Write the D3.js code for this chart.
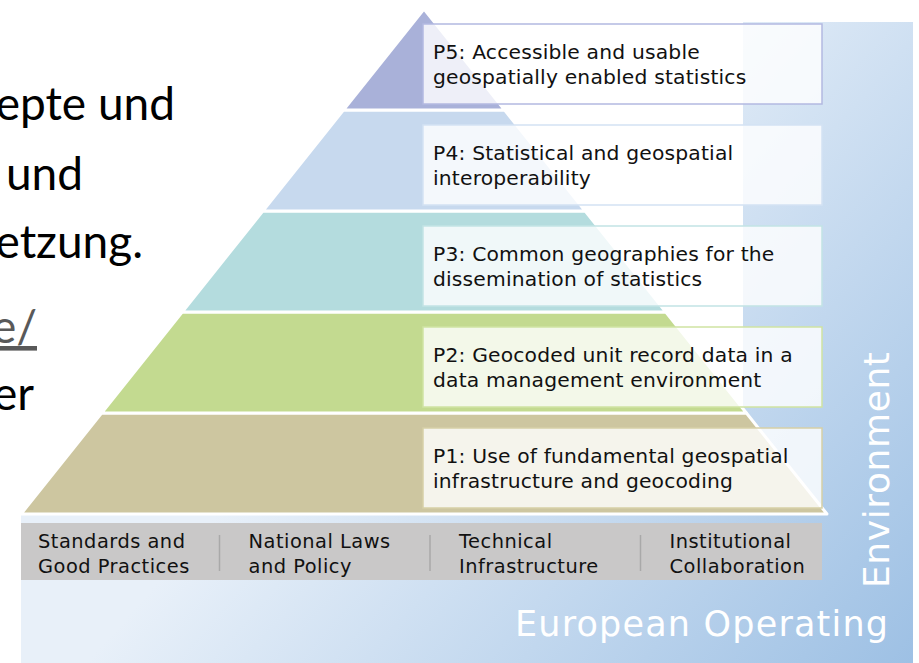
<!DOCTYPE html>
<html><head><meta charset="utf-8">
<script src="https://cdn.jsdelivr.net/npm/d3@7"></script>
<style>body{margin:0;background:#fff;overflow:hidden;} svg{display:block;}</style>
</head><body>
<svg id="c" width="919" height="663"></svg>
<script>
// ---- data ----
const pillarIds = ["P1", "P2", "P3", "P4", "P5"];
const pillarLine1 = ["P1: Use of fundamental geospatial", "P2: Geocoded unit record data in a", "P3: Common geographies for the", "P4: Statistical and geospatial", "P5: Accessible and usable"];
const pillarLine2 = ["infrastructure and geocoding", "data management environment", "dissemination of statistics", "interoperability", "geospatially enabled statistics"];
const pillarColors = ["#cdc6a0", "#c3da90", "#b4dcde", "#c7d9ee", "#a9b1d9"];
const pillarBorders = ["#d6d0a6", "#cfe3a2", "#c2e3e5", "#d3e2f3", "#b3b9e1"];
const foundations1 = ["Standards and", "National Laws", "Technical", "Institutional"];
const foundations2 = ["Good Practices", "and Policy", "Infrastructure", "Collaboration"];
const envText = ["European Operating", "Environment"];
const slideLines = ["epte und", "und", "etzung.", "e/", "er"];

// ---- layout ----
const svg = d3.select("#c");
const defs = svg.append("defs");
const grad = defs.append("linearGradient").attr("id", "bg")
  .attr("gradientUnits", "userSpaceOnUse")
  .attr("x1", 450).attr("y1", 250).attr("x2", 919).attr("y2", 663);
grad.append("stop").attr("offset", 0).attr("stop-color", "#e8f0f9");
grad.append("stop").attr("offset", 1).attr("stop-color", "#9dc0e4");

// background L-shaped operating environment
const bgPath = d3.path();
bgPath.moveTo(743, 22); bgPath.lineTo(913, 22); bgPath.lineTo(913, 663);
bgPath.lineTo(21, 663); bgPath.lineTo(21, 515); bgPath.lineTo(743, 515); bgPath.closePath();
svg.append("path").attr("d", bgPath.toString()).attr("fill", "url(#bg)");

// slide text on the left (cut off by the slide edge, as in the reference)
const slideY = d3.scaleOrdinal().domain(slideLines).range([120, 190, 258, 343, 410]);
const slideX = d3.scaleOrdinal().domain(slideLines).range([175, 83, 143, 37, 34]);
svg.append("g").selectAll("text").data(slideLines).join("text")
  .attr("x", d => slideX(d)).attr("y", d => slideY(d))
  .attr("text-anchor", "end")
  .attr("font-family", "Lato, 'Open Sans', sans-serif")
  .attr("font-size", 46)
  .attr("fill", d => d === "e/" ? "#595959" : "#000")
  .attr("text-decoration", d => d === "e/" ? "underline" : null)
  .text(d => d);

// pyramid
const yLevel = d3.scaleLinear().domain([0, 5]).range([514, 9]);
const halfW = d3.scaleLinear().domain([0, 5]).range([403, 0]);
const cx = 424;
const layerPath = i => {
  const p = d3.path();
  p.moveTo(cx - halfW(i), yLevel(i));
  p.lineTo(cx + halfW(i), yLevel(i));
  p.lineTo(cx + halfW(i + 1), yLevel(i + 1));
  p.lineTo(cx - halfW(i + 1), yLevel(i + 1));
  p.closePath();
  return p.toString();
};
svg.append("g").selectAll("path").data(pillarIds).join("path")
  .attr("d", (d, i) => layerPath(i))
  .attr("fill", (d, i) => pillarColors[i])
  .attr("stroke", "#fff").attr("stroke-width", 3).attr("stroke-linejoin", "round");

// label boxes
const yBox = d3.scaleLinear().domain([0, 4]).range([428, 24]);
const boxes = svg.append("g").selectAll("g").data(pillarIds).join("g")
  .attr("transform", (d, i) => `translate(423,${yBox(i)})`);
boxes.append("rect").attr("width", 399).attr("height", 80)
  .attr("fill", "#fff").attr("fill-opacity", 0.8)
  .attr("stroke", (d, i) => pillarBorders[i]).attr("stroke-width", 1.5);
const boxText = boxes.append("text")
  .attr("font-family", "'DejaVu Sans', Verdana, sans-serif")
  .attr("font-size", 20.3).attr("letter-spacing", 0.18).attr("fill", "#111");
boxText.append("tspan").attr("x", 10).attr("y", 35).text((d, i) => pillarLine1[i]);
boxText.append("tspan").attr("x", 10).attr("y", 60).text((d, i) => pillarLine2[i]);

// foundations bar
svg.append("rect").attr("x", 21).attr("y", 523).attr("width", 801).attr("height", 57).attr("fill", "#c9c8c8");
const xF = d3.scalePoint().domain(foundations1).range([38, 669.5]);
const fg = svg.append("g").selectAll("g").data(foundations1).join("g")
  .attr("transform", d => `translate(${xF(d)},0)`);
const ft = fg.append("text").attr("font-family", "'DejaVu Sans', Verdana, sans-serif")
  .attr("font-size", 19.4).attr("letter-spacing", 0.5).attr("fill", "#111");
ft.append("tspan").attr("x", 0).attr("y", 548).text(d => d);
ft.append("tspan").attr("x", 0).attr("y", 573).text((d, i) => foundations2[i]);
fg.filter((d, i) => i > 0).append("line")
  .attr("x1", -29).attr("x2", -29).attr("y1", 535).attr("y2", 571)
  .attr("stroke", "#a9a9a9").attr("stroke-width", 1.5);

// operating environment labels
svg.append("text").attr("x", 515).attr("y", 636)
  .attr("font-family", "'DejaVu Sans', Verdana, sans-serif").attr("font-size", 35)
  .attr("fill", "#fff").attr("textLength", 373).attr("lengthAdjust", "spacing")
  .text(envText[0]);
svg.append("text").attr("transform", "translate(889,588) rotate(-90)")
  .attr("font-family", "'DejaVu Sans', Verdana, sans-serif").attr("font-size", 36)
  .attr("fill", "#fff").attr("textLength", 236).attr("lengthAdjust", "spacing")
  .text(envText[1]);
</script>
</body></html>
